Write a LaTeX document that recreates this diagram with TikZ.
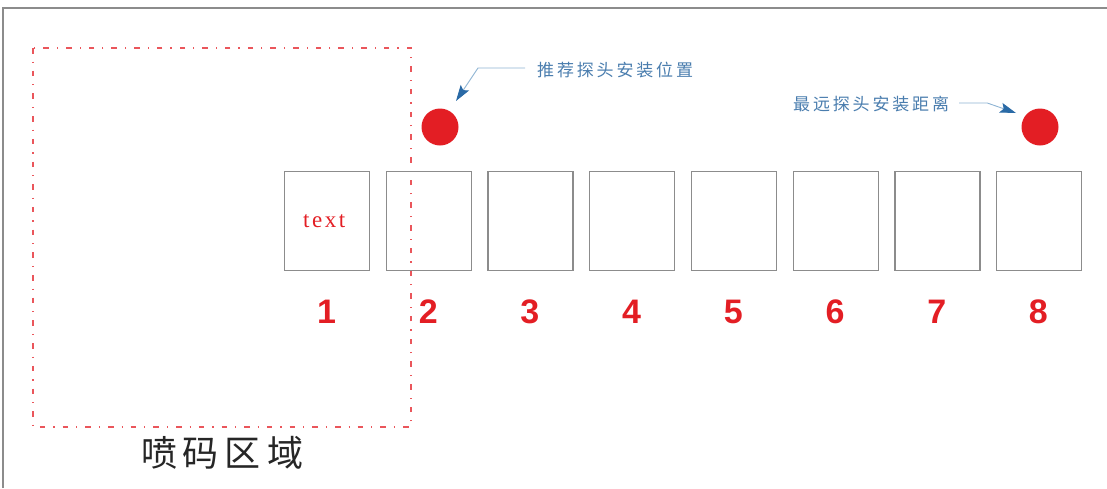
\documentclass[tikz,border=0pt]{standalone}
\usepackage{fontspec}
\setmainfont{Liberation Serif}
\newfontfamily\cjk{Noto Sans CJK SC}
\newfontfamily\numfont{Liberation Sans}
\usetikzlibrary{arrows.meta}
\definecolor{mred}{HTML}{E31E24}
\definecolor{mblue}{HTML}{4A7DAE}
\definecolor{mline}{HTML}{8DB3D3}
\definecolor{mtip}{HTML}{2A6AA6}
\definecolor{mgrey}{HTML}{8C8C8C}
\tikzset{
  cell/.style={draw=mgrey, line width=1.3pt, minimum width=85pt, minimum height=99pt, inner sep=0pt, anchor=north west},
  numlab/.style={text=mred, font=\numfont\bfseries\fontsize{34}{36}\selectfont, inner sep=0pt},
  probe/.style={circle, fill=mred, minimum size=37pt, inner sep=0pt},
  note/.style={text=mblue, font=\cjk\fontsize{17}{20}\selectfont, inner sep=0pt},
  pointer/.style={draw=mline, line width=0.9pt, -{Stealth[length=16pt,width=10pt,inset=3pt,color=mtip]}},
  zone/.style={draw=mred!75, line width=1.3pt, dash pattern=on 5.5pt off 8pt on 1.2pt off 8pt},
}
\begin{document}
\begin{tikzpicture}[x=1pt,y=-1pt]
\useasboundingbox (0,0) rectangle (1107,488);
% frame
\draw[mgrey, line width=1.3pt] (3,488) -- (3,8) -- (1107,8);
% print zone
\draw[zone] (33,48) rectangle (411,427);
\node[font=\cjk\fontsize{36}{40}\selectfont, text=black!85] (zonelab) at (222,453) {喷\,码\,区\,域};
% cells
\foreach \i in {1,...,8}{
  \node[cell] (b\i) at ({284+(\i-1)*101.7},171) {};
  \node[numlab] (n\i) at ({326.5+(\i-1)*101.7},312) {\i};
}
\node[text=mred, font=\fontsize{23}{26}\selectfont] (t1) at ([xshift=-3pt]b1.center) {t\kern2.5pt e\kern2.5pt x\kern2.5pt t};
% probes
\node[probe] (p1) at (440,127) {};
\node[probe] (p2) at (1040,127) {};
% notes
\node[note, anchor=west] (l1) at (537,70) {推\,荐\,探\,头\,安\,装\,位\,置};
\node[note, anchor=west] (l2) at (793,104) {最\,远\,探\,头\,安\,装\,距\,离};
\coordinate (s1) at ([xshift=-12pt,yshift=2pt]l1.west);
\coordinate (e1) at (456,101);
\coordinate (s2) at ([xshift=10pt,yshift=1pt]l2.east);
\coordinate (e2) at (1016,113);
\draw[pointer] (s1) -- ++(-47,0) -- (e1);
\draw[pointer] (s2) -- ++(28,0) -- (e2);
\end{tikzpicture}
\end{document}
